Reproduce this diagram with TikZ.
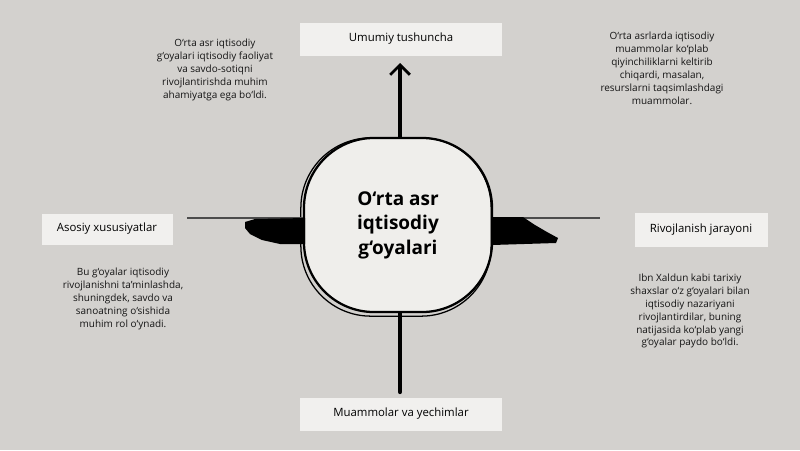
\documentclass[tikz,border=0pt]{standalone}
\usepackage{fontspec}
\setmainfont{Open Sans}
\usetikzlibrary{arrows.meta}
\definecolor{bgcol}{HTML}{D3D1CE}
\definecolor{boxcol}{HTML}{F1F0EE}
\definecolor{ctrcol}{HTML}{EFEEEB}

\begin{document}
\begin{tikzpicture}[x=0.025cm,y=-0.025cm,
    lbl/.style={fill=boxcol,inner sep=0pt,font=\fontsize{8.1}{10}\selectfont},
    note/.style={align=center,inner sep=0pt,font=\fontsize{7.1}{9.2}\selectfont,text=black!92},
    ctr/.style={fill=ctrcol,draw=black,line width=1.6pt,rounded corners=1.75cm,
        minimum width=4.7cm,minimum height=4.35cm,align=center,
        font=\fontsize{13.5}{17.5}\selectfont\bfseries}]
    \fill[bgcol] (0,0) rectangle (800,450);
    \useasboundingbox (0,0) rectangle (800,450);

    % centre
    \node[ctr] (ctr) at (398,225) {O‘rta asr\\iqtisodiy\\g‘oyalari};
    \draw[line width=0.9pt,rounded corners=1.75cm]
        ([shift={(-2,1)}]ctr.north west) rectangle ([shift={(-2,3)}]ctr.south east);

    % the four labels
    \foreach \px/\py/\w/\h/\nm/\txt in {
        401/39/202/33/top/Umumiy tushuncha,
        401/414/202/33/bot/Muammolar va yechimlar,
        107/229/131/31/lft/Asosiy xususiyatlar,
        701/230/133/34/rgt/Rivojlanish jarayoni}
    {
        \node[lbl,minimum width=\w*0.025cm,minimum height=\h*0.025cm] (\nm) at (\px,\py) {\txt};
    }

    % connectors
    \coordinate (tip) at (400,63);
    \coordinate (foot) at (400,392);
    \coordinate (lend) at (187,218);
    \coordinate (rend) at (600,218);
    \draw[line width=2.8pt,-{Straight Barb[length=7pt,width=14pt,line width=2pt]}]
        (ctr.north -| tip) -- (tip);
    \draw[line width=3pt,line cap=round] (ctr.south -| foot) -- (foot);
    \draw[line width=0.8pt,black!70] (lend) -- (ctr.west |- lend);
    \draw[line width=0.8pt,black!70] (ctr.east |- rend) -- (rend);
    \fill (245,222) -- (255,219) -- (305,218) -- (305,244) -- (280,244)
        -- (262,240) -- (250,234) -- (245,228) -- cycle;
    \fill (492,217) -- (523,217) -- (535,225) -- (547,232) -- (558,238)
        -- (556,243) -- (492,245) -- cycle;

    % notes
    \node[note] (ntl) at (215,70) {O‘rta asr iqtisodiy\\g‘oyalari iqtisodiy faoliyat\\va savdo-sotiqni\\rivojlantirishda muhim\\ahamiyatga ega bo‘ldi.};
    \node[note] (ntr) at (662,68) {O‘rta asrlarda iqtisodiy\\muammolar ko‘plab\\qiyinchiliklarni keltirib\\chiqardi, masalan,\\resurslarni taqsimlashdagi\\muammolar.};
    \node[note] (nbl) at (123,299) {Bu g‘oyalar iqtisodiy\\rivojlanishni ta’minlashda,\\shuningdek, savdo va\\sanoatning o‘sishida\\muhim rol o‘ynadi.};
    \node[note] (nbr) at (690,311) {Ibn Xaldun kabi tarixiy\\shaxslar o‘z g‘oyalari bilan\\iqtisodiy nazariyani\\rivojlantirdilar, buning\\natijasida ko‘plab yangi\\g‘oyalar paydo bo‘ldi.};
\end{tikzpicture}
\end{document}
